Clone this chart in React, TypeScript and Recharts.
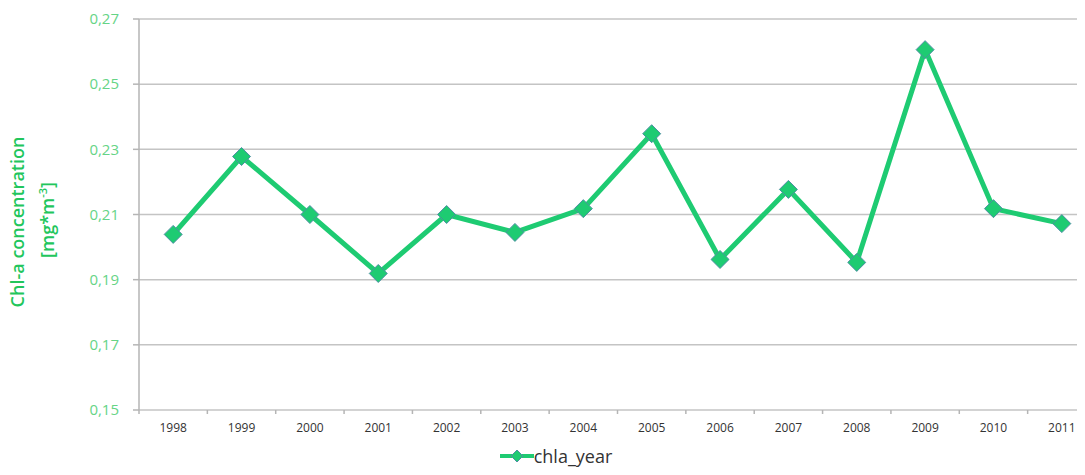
import React from "react";
import { LineChart, Line, XAxis, YAxis, CartesianGrid, Legend } from "recharts";

const years = ["1998","1999","2000","2001","2002","2003","2004","2005","2006","2007","2008","2009","2010","2011"];
const chlaYear = [0.2039,0.2278,0.2100,0.1919,0.2100,0.2045,0.2118,0.2348,0.1962,0.2177,0.1953,0.2606,0.2118,0.2072];
const yTicks = [0.15,0.17,0.19,0.21,0.23,0.25,0.27];
const boundaryTicks = [0,1,2,3,4,5,6,7,8,9,10,11,12,13,14];

const data = years.map((y, i) => ({ year: y, chla_year: chlaYear[i], idx: i + 0.5 }));

const LINE = "#1ecb72";
const EDGE = "#4f8fa3";

const Diamond = (props: any) => {
  const { cx, cy } = props;
  if (cx == null || cy == null) return null;
  const r = 9;
  return (
    <path
      d={`M${cx},${cy - r}L${cx + r},${cy}L${cx},${cy + r}L${cx - r},${cy}Z`}
      fill={LINE}
      stroke={EDGE}
      strokeWidth={1}
    />
  );
};

const LegendContent = () => (
  <div style={{ display: "flex", alignItems: "center", justifyContent: "center", marginLeft: 16, height: 20, fontFamily: "'Open Sans', sans-serif", fontSize: 18, color: "#333", lineHeight: "20px" }}>
    <svg width={34} height={14}>
      <line x1={0} y1={7} x2={34} y2={7} stroke={LINE} strokeWidth={4} />
      <path d="M17,1L23,7L17,13L11,7Z" fill={LINE} stroke={EDGE} strokeWidth={1} />
    </svg>
    <span style={{ marginLeft: 0 }}>chla_year</span>
  </div>
);

export default function App() {
  return (
    <div style={{ margin: -8, width: 1100, height: 475, position: "relative", background: "#fff" }}>
      <LineChart width={1100} height={475} data={data} margin={{ top: 19, right: 4, bottom: 0, left: 0 }}>
        <CartesianGrid horizontal={true} vertical={false} stroke="#c4c4c4" strokeWidth={1.5} />
        <XAxis
          xAxisId="bnd"
          type="number"
          dataKey="idx"
          domain={[0, 14]}
          ticks={boundaryTicks}
          interval={0}
          height={1}
          axisLine={false}
          tick={() => <g />}
          tickLine={{ stroke: "#b5b5b5", strokeWidth: 1.5 }}
          tickSize={4}
        />
        <XAxis
          dataKey="year"
          xAxisId="cat"
          scale="band"
          height={28}
          tickLine={false}
          axisLine={false}
          tick={{ fill: "#333", fontSize: 12, fontFamily: "'Open Sans', sans-serif" }}
          tickMargin={6}
        />
        <YAxis
          width={139}
          domain={[0.15, 0.27]}
          ticks={yTicks}
          interval={0}
          tickFormatter={(v: number) => v.toFixed(2).replace(".", ",")}
          axisLine={{ stroke: "#b5b5b5", strokeWidth: 1.5 }}
          tickLine={{ stroke: "#b5b5b5", strokeWidth: 1.5 }}
          tickSize={6}
          tickMargin={14}
          tick={{ fill: "#66d486", fontSize: 15, fontFamily: "'Open Sans', sans-serif" }}
          label={() => (
            <text
              transform="translate(24,222) rotate(-90)"
              textAnchor="middle"
              fill="#22c65c"
              fontFamily="'Open Sans', sans-serif"
              fontWeight={600}
              fontSize={18}
            >
              <tspan x={0} dy={0}>Chl-a concentration</tspan>
              <tspan x={2} dy={30}>[mg*m</tspan>
              <tspan dy={-7} fontSize={11}>-3</tspan>
              <tspan dy={7}>]</tspan>
            </text>
          )}
        />
        <Legend
          verticalAlign="bottom"
          content={LegendContent}
          wrapperStyle={{ height: 36, paddingTop: 16, boxSizing: "border-box", bottom: 9 }}
        />
        <Line
          xAxisId="cat"
          dataKey="chla_year"
          name="chla_year"
          stroke={LINE}
          strokeWidth={5}
          dot={<Diamond />}
          activeDot={false}
          isAnimationActive={false}
        />
      </LineChart>
    </div>
  );
}
